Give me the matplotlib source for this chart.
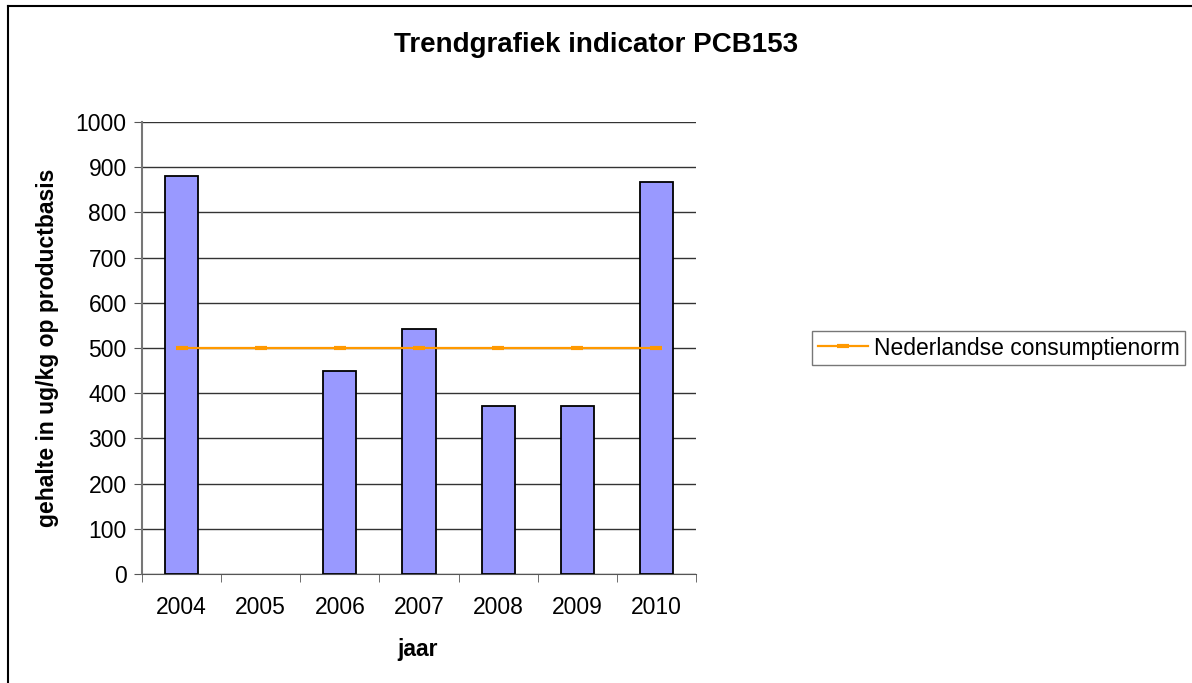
import matplotlib
matplotlib.use("Agg")
import matplotlib.pyplot as plt
from matplotlib.lines import Line2D

plt.rcParams['font.family'] = ['Liberation Sans', 'DejaVu Sans']

# data (2005: no measurement)
jaren = ['2004', '2005', '2006', '2007', '2008', '2009', '2010']
gehalte = [880, float('nan'), 450, 542, 372, 372, 868]
norm = [500, 500, 500, 500, 500, 500, 500]

W, H = 1192, 683
fig = plt.figure(figsize=(W / 100, H / 100), dpi=100)
ax = fig.add_axes([142 / W, 1 - 574 / H, (696 - 142) / W, (574 - 122) / H])

x = list(range(len(jaren)))
ax.bar(x, gehalte, width=0.42, color='#9999FF', edgecolor='black', linewidth=1.3, zorder=3)
ax.plot(x, norm, color='#FF9900', linewidth=1.6, marker='_', markersize=9,
        markeredgewidth=3, zorder=4, label='Nederlandse consumptienorm')

ax.set_xlim(-0.5, len(jaren) - 0.5)
ax.set_ylim(0, 1000)
ax.set_yticks(range(0, 1001, 100))
ax.yaxis.grid(True, color='#333333', linewidth=1)
ax.set_axisbelow(True)

ax.set_xticks(x)
ax.set_xticklabels(jaren)
ax.set_xticks([i - 0.5 for i in range(len(jaren) + 1)], minor=True)
ax.tick_params(axis='x', which='major', length=0, pad=16, labelsize=16.5)
ax.tick_params(axis='x', which='minor', length=6, color='#555555', direction='out')
ax.tick_params(axis='y', length=6, color='#555555', direction='out', labelsize=16.5, pad=5)

for s in ['top', 'right']:
    ax.spines[s].set_visible(False)
ax.spines['left'].set_color('#777777')
ax.spines['left'].set_linewidth(1.5)
ax.spines['bottom'].set_color('#555555')

ax.set_xlabel('jaar', fontsize=16.5, fontweight='bold')
ax.xaxis.set_label_coords(0.498, -0.168)
ax.set_ylabel('gehalte in ug/kg op productbasis', fontsize=16.5, fontweight='bold')
ax.yaxis.set_label_coords(-0.171, 0.5)
ax.yaxis.label.set_va('center')
ax.xaxis.label.set_va('center')

fig.text(596 / W, 1 - 45 / H, 'Trendgrafiek indicator PCB153', ha='center', va='center',
         fontsize=20, fontweight='bold')

leg = ax.legend(loc='center left', bbox_to_anchor=(812 / W, 1 - 348 / H),
                bbox_transform=fig.transFigure, frameon=True, fancybox=False,
                fontsize=16.5, handlelength=2.2, borderpad=0.25, handletextpad=0.25,
                borderaxespad=0)
leg.get_frame().set_edgecolor('#555555')
leg.get_frame().set_linewidth(1)

# outer chart frame
fig.add_artist(Line2D([8 / W, 1], [1 - 5.5 / H, 1 - 5.5 / H], color='black', linewidth=1.5,
                      transform=fig.transFigure))
fig.add_artist(Line2D([8 / W, 8 / W], [0, 1 - 5.5 / H], color='black', linewidth=1.5,
                      transform=fig.transFigure))

fig.savefig('out.png', dpi=100)
